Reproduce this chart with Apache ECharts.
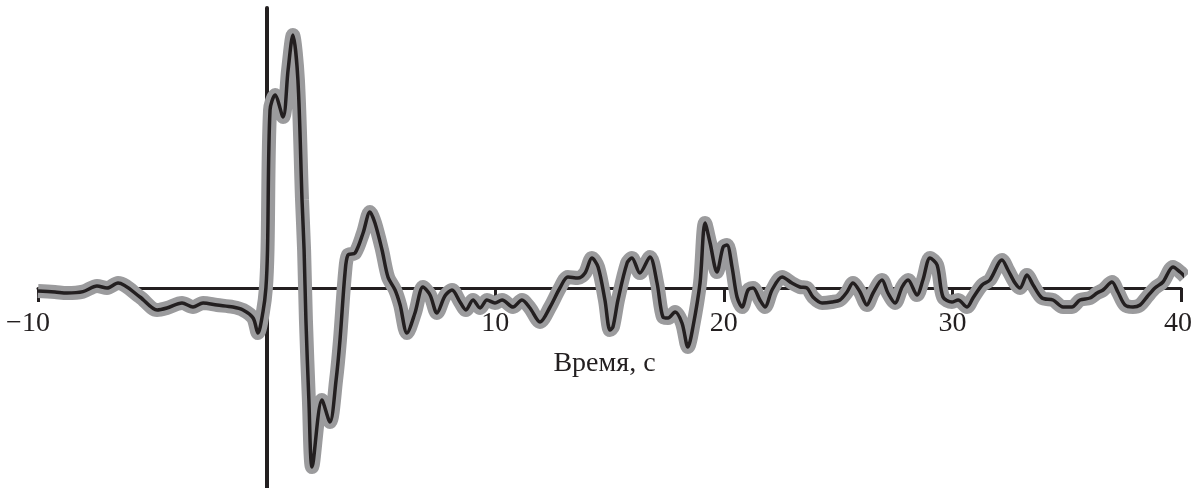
<!DOCTYPE html>
<html>
<head>
<meta charset="utf-8">
<title>Время, с</title>
<script src="https://cdn.jsdelivr.net/npm/echarts@6/dist/echarts.min.js"></script>
<style>
  html, body { margin: 0; padding: 0; background: #ffffff; }
  #chart { width: 1195px; height: 488px; }
</style>
</head>
<body>
<div id="chart"></div>
<script>
// Time axis (s) and recorded amplitude (arbitrary units)
const times = [
  -10.00, -9.26, -8.73, -8.03, -7.42, -6.98, -6.50, -5.54, -4.79, -4.36,
  -3.70, -3.22, -2.78, -2.17, -1.47, -1.03, -0.59, -0.38, -0.16, -0.03,
  0.04, 0.15, 0.37, 0.72, 0.94, 1.15, 1.37, 1.55, 1.64, 1.72,
  1.85, 1.99, 2.42, 2.77, 3.04, 3.21, 3.43, 3.56, 3.87, 4.22,
  4.52, 4.74, 5.05, 5.31, 5.62, 5.84, 6.14, 6.49, 6.84, 7.15,
  7.45, 7.80, 8.11, 8.46, 8.72, 9.03, 9.34, 9.64, 9.99, 10.30,
  10.78, 11.17, 11.52, 11.96, 12.40, 12.83, 13.18, 13.62, 13.93, 14.23,
  14.50, 14.80, 15.02, 15.15, 15.37, 15.77, 15.98, 16.33, 16.77, 17.08,
  17.34, 17.56, 17.87, 18.17, 18.43, 18.65, 18.96, 19.18, 19.40, 19.70,
  19.97, 20.14, 20.36, 20.58, 20.80, 21.06, 21.28, 21.58, 21.80, 22.11,
  22.55, 22.98, 23.33, 23.64, 23.90, 24.30, 24.73, 25.08, 25.39, 25.65,
  25.96, 26.26, 26.53, 26.92, 27.18, 27.49, 27.80, 28.06, 28.45, 28.71,
  29.02, 29.33, 29.59, 29.98, 30.25, 30.64, 30.90, 31.30, 31.64, 32.17,
  32.43, 32.74, 32.96, 33.26, 33.53, 33.92, 34.40, 34.84, 35.23, 35.58,
  36.02, 36.33, 36.59, 36.98, 37.24, 37.55, 37.90, 38.21, 38.51, 38.86,
  39.21, 39.65, 39.96, 40.18
];

const amplitude = [
  -0.15, -0.20, -0.25, -0.18, 0.10, 0.00, 0.25, -0.45, -1.10, -1.00,
  -0.75, -0.95, -0.75, -0.85, -0.95, -1.10, -1.50, -2.25, -1.20, 0.00,
  1.90, 8.90, 9.65, 8.55, 10.90, 12.65, 10.40, 4.40, 1.90, -1.60,
  -5.60, -8.95, -5.60, -6.70, -4.60, -2.60, 0.75, 1.65, 1.75, 2.75,
  3.80, 3.25, 1.90, 0.55, -0.10, -0.85, -2.25, -1.25, 0.05, -0.35,
  -1.25, -0.40, -0.10, -0.70, -1.10, -0.60, -1.00, -0.60, -0.75, -0.60,
  -0.95, -0.60, -1.00, -1.70, -0.95, 0.00, 0.55, 0.50, 0.75, 1.50,
  1.05, -0.60, -2.10, -1.95, -0.60, 1.25, 1.50, 0.75, 1.55, 0.25,
  -1.45, -1.50, -1.20, -1.75, -2.95, -1.95, 0.25, 3.25, 2.25, 0.80,
  2.05, 2.15, 1.05, -0.45, -0.95, -0.10, 0.00, -0.60, -0.95, -0.10,
  0.55, 0.25, 0.05, 0.00, -0.45, -0.75, -0.70, -0.60, -0.20, 0.25,
  -0.20, -0.85, -0.25, 0.40, -0.25, -0.75, 0.05, 0.40, -0.35, 0.40,
  1.50, 1.15, -0.45, -0.70, -0.60, -0.95, -0.50, 0.15, 0.40, 1.40,
  0.90, 0.25, 0.00, 0.65, 0.15, -0.50, -0.60, -0.95, -0.95, -0.60,
  -0.50, -0.25, -0.10, 0.30, -0.20, -0.85, -0.95, -0.85, -0.45, 0.00,
  0.30, 1.05, 0.80, 0.55
];

const tickLabels = { '-10': '−10', '0': '0', '10': '10', '20': '20', '30': '30', '40': '40' };
const axisTitle = 'Время, с';

const ink = '#231f20';
const bandGray = '#9b9b9d';
const serif = '"Liberation Serif", "DejaVu Serif", serif';
const FONT = 28;

const X_MIN = -10, X_MAX = 40, Y_MIN = -10, Y_MAX = 14;

const points = times.map((t, i) => [t, amplitude[i]]);

const chart = echarts.init(document.getElementById('chart'), null, { renderer: 'canvas' });

chart.setOption({
  animation: false,
  backgroundColor: '#ffffff',
  grid: [
    // plotting area for the trace
    { left: 38, right: 14, top: 8, bottom: 0, containLabel: false, outerBoundsMode: 'none' },
    // upper half, whose lower edge is the zero line: carries the time axis
    { left: 38, right: 14, top: 8, height: 280, containLabel: false, outerBoundsMode: 'none' }
  ],
  xAxis: [
    {
      gridIndex: 0,
      type: 'value',
      min: X_MIN, max: X_MAX, interval: 10,
      axisLine: { show: false },
      axisTick: { show: false },
      axisLabel: { show: false },
      splitLine: { show: false }
    },
    {
      gridIndex: 1,
      type: 'value',
      position: 'bottom',
      min: X_MIN, max: X_MAX, interval: 10,
      name: axisTitle,
      nameLocation: 'middle',
      nameGap: 62,
      nameTextStyle: { fontFamily: serif, fontSize: FONT, color: ink, padding: [0, 10, 0, 0] },
      axisLine: { show: true, onZero: false, lineStyle: { color: ink, width: 3 } },
      axisTick: { show: true, inside: false, length: 14, lineStyle: { color: ink, width: 3 } },
      splitLine: { show: false },
      axisLabel: {
        margin: 22,
        fontFamily: serif,
        fontSize: FONT,
        color: ink,
        formatter: function (v) {
          const s = tickLabels[String(v)] || String(v);
          if (v === -10) return '{neg|' + s + '}';
          if (v === 0) return '{zero|' + s + '}';
          if (v === 40) return '{end|' + s + '}';
          return s;
        },
        rich: {
          neg: { fontFamily: serif, fontSize: FONT, color: ink, padding: [0, 20, 0, 0] },
          zero: { fontFamily: serif, fontSize: FONT, color: ink, padding: [0, 14, 0, 0] },
          end: { fontFamily: serif, fontSize: FONT, color: ink, padding: [0, 6, 0, 0] }
        }
      }
    }
  ],
  yAxis: [
    {
      gridIndex: 0,
      type: 'value',
      min: Y_MIN, max: Y_MAX,
      axisLine: { show: true, onZero: true, lineStyle: { color: ink, width: 4 } },
      axisTick: { show: false },
      axisLabel: { show: false },
      splitLine: { show: false }
    },
    {
      gridIndex: 1,
      type: 'value',
      min: 0, max: Y_MAX,
      show: false
    }
  ],
  series: [
    {
      name: 'band',
      type: 'line',
      xAxisIndex: 0, yAxisIndex: 0,
      data: points,
      symbol: 'none',
      smooth: 0.3,
      clip: false,
      z: 2,
      lineStyle: { color: bandGray, width: 14, join: 'bevel', cap: 'butt' }
    },
    {
      name: 'trace',
      type: 'line',
      xAxisIndex: 0, yAxisIndex: 0,
      data: points,
      symbol: 'none',
      smooth: 0.3,
      clip: false,
      z: 3,
      lineStyle: { color: ink, width: 3.5, join: 'round' }
    }
  ]
});
</script>
</body>
</html>
